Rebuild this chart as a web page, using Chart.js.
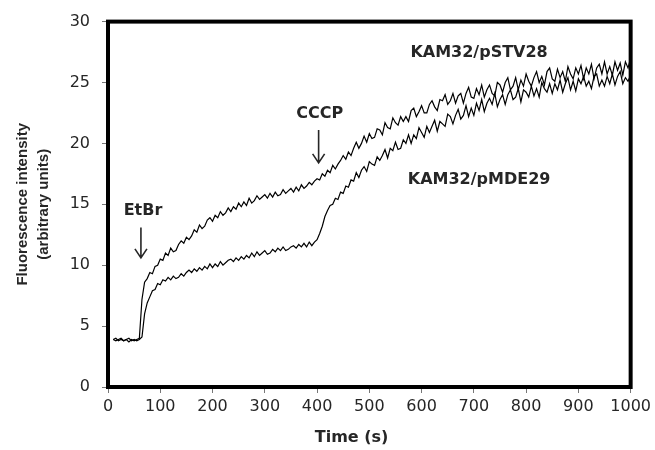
<!DOCTYPE html>
<html>
<head>
<meta charset="utf-8">
<script src="https://cdn.jsdelivr.net/npm/chart.js@4.4.0/dist/chart.umd.min.js"></script>
<style>
    html, body { margin: 0; padding: 0; background: #fff; }
</style>
</head>
<body>
<canvas id="chart" width="655" height="450"></canvas>
<script>
// Sampling times (s), one row per 50 s
const times = [
    10, 15, 20, 25, 30, 35, 40, 45, 50, 55,
    60, 65, 70, 75, 80, 85, 90, 95, 100, 105,
    110, 115, 120, 125, 130, 135, 140, 145, 150, 155,
    160, 165, 170, 175, 180, 185, 190, 195, 200, 205,
    210, 215, 220, 225, 230, 235, 240, 245, 250, 255,
    260, 265, 270, 275, 280, 285, 290, 295, 300, 305,
    310, 315, 320, 325, 330, 335, 340, 345, 350, 355,
    360, 365, 370, 375, 380, 385, 390, 395, 400, 405,
    410, 415, 420, 425, 430, 435, 440, 445, 450, 455,
    460, 465, 470, 475, 480, 485, 490, 495, 500, 505,
    510, 515, 520, 525, 530, 535, 540, 545, 550, 555,
    560, 565, 570, 575, 580, 585, 590, 595, 600, 605,
    610, 615, 620, 625, 630, 635, 640, 645, 650, 655,
    660, 665, 670, 675, 680, 685, 690, 695, 700, 705,
    710, 715, 720, 725, 730, 735, 740, 745, 750, 755,
    760, 765, 770, 775, 780, 785, 790, 795, 800, 805,
    810, 815, 820, 825, 830, 835, 840, 845, 850, 855,
    860, 865, 870, 875, 880, 885, 890, 895, 900, 905,
    910, 915, 920, 925, 930, 935, 940, 945, 950, 955,
    960, 965, 970, 975, 980, 985, 990, 995, 1000
];

// KAM32/pSTV28 (upper trace)
const pSTV28 = [
    3.9, 3.8, 3.9, 4.0, 3.8, 3.9, 3.7, 3.9, 3.8, 3.9,
    4.0, 7.2, 8.6, 8.9, 9.4, 9.3, 9.9, 10.0, 10.5, 10.4,
    11.0, 10.8, 11.4, 11.1, 11.2, 11.7, 12.0, 11.8, 12.3, 12.1,
    12.4, 12.9, 12.7, 13.3, 13.0, 13.2, 13.7, 13.9, 13.6, 14.1,
    13.9, 14.4, 14.1, 14.3, 14.7, 14.4, 14.8, 14.6, 15.1, 14.8,
    15.2, 14.9, 15.5, 15.1, 15.3, 15.7, 15.4, 15.6, 15.8, 15.5,
    15.9, 15.6, 16.0, 15.7, 15.8, 16.2, 15.9, 16.1, 16.3, 16.0,
    16.4, 16.1, 16.6, 16.3, 16.5, 16.8, 16.6, 16.9, 17.1, 17.0,
    17.5, 17.3, 17.8, 17.6, 18.2, 17.9, 18.3, 18.6, 19.0, 18.7,
    19.3, 19.0, 19.6, 20.1, 19.6, 20.0, 20.6, 20.1, 20.8, 20.4,
    20.5, 21.2, 21.1, 20.7, 21.7, 21.3, 21.2, 22.1, 21.7, 21.5,
    22.2, 21.8, 22.2, 21.8, 22.7, 22.9, 22.2, 22.6, 23.1, 22.5,
    22.5, 23.2, 23.5, 23.0, 22.7, 23.6, 23.5, 24.0, 23.2, 23.5,
    24.1, 23.3, 23.9, 24.1, 23.3, 24.1, 24.6, 23.8, 23.7, 24.5,
    24.0, 24.8, 23.8, 24.4, 24.8, 24.1, 23.9, 25.0, 24.8, 24.2,
    25.0, 25.4, 24.4, 24.7, 25.4, 24.4, 25.2, 24.7, 25.7, 25.1,
    24.7, 25.4, 25.9, 25.0, 25.5, 24.8, 25.9, 26.2, 25.3, 25.1,
    26.1, 25.4, 25.9, 25.1, 26.3, 25.7, 25.3, 26.2, 25.7, 26.4,
    25.3, 26.2, 25.7, 26.5, 25.3, 26.2, 26.5, 25.7, 26.7, 25.7,
    26.3, 25.6, 26.7, 26.0, 26.6, 25.6, 26.7, 26.2, 27.0
];

// KAM32/pMDE29 (lower trace)
const pMDE29 = [
    3.9, 4.0, 3.8, 3.9, 3.8, 3.9, 4.0, 3.8, 3.9, 3.8,
    3.9, 4.1, 6.0, 6.9, 7.4, 7.9, 8.0, 8.5, 8.4, 8.8,
    8.7, 9.0, 8.8, 9.1, 8.9, 9.0, 9.3, 9.1, 9.4, 9.6,
    9.4, 9.7, 9.5, 9.8, 9.6, 9.9, 9.7, 10.1, 9.8, 10.1,
    9.9, 10.3, 10.0, 10.2, 10.4, 10.5, 10.3, 10.6, 10.4, 10.7,
    10.5, 10.8, 10.6, 11.0, 10.7, 11.1, 10.8, 11.0, 11.2, 10.9,
    11.0, 11.3, 11.1, 11.4, 11.2, 11.5, 11.2, 11.3, 11.5, 11.6,
    11.4, 11.7, 11.5, 11.8, 11.5, 11.9, 11.6, 11.9, 12.1, 12.6,
    13.2, 14.0, 14.5, 14.9, 15.0, 15.5, 15.4, 16.0, 15.9, 16.5,
    16.4, 17.0, 16.9, 17.6, 17.2, 17.8, 18.1, 17.7, 18.5, 18.3,
    18.2, 18.9, 18.6, 19.0, 19.5, 18.8, 19.6, 19.4, 20.1, 19.5,
    19.6, 20.3, 20.0, 20.7, 20.0, 20.7, 20.4, 21.3, 20.9, 20.5,
    21.4, 20.9, 21.4, 21.9, 21.0, 21.8, 21.6, 21.4, 22.4, 22.2,
    21.6, 22.3, 22.8, 22.0, 22.3, 23.1, 22.2, 22.9, 22.3, 23.3,
    22.7, 23.6, 22.6, 23.3, 23.7, 23.2, 24.1, 23.0, 23.6, 24.0,
    23.2, 24.0, 24.4, 23.6, 23.8, 24.5, 23.4, 24.4, 24.2, 23.8,
    24.7, 23.9, 24.5, 23.8, 25.0, 24.5, 24.2, 24.9, 24.1, 24.9,
    24.4, 25.2, 24.2, 24.9, 25.4, 24.4, 25.1, 24.3, 25.3, 24.9,
    25.5, 24.7, 25.1, 24.5, 25.5, 25.7, 24.7, 25.2, 24.7, 25.5,
    24.9, 25.7, 24.8, 25.5, 25.9, 24.9, 25.4, 25.1, 25.6
];

const xTicks = [0, 100, 200, 300, 400, 500, 600, 700, 800, 900, 1000];
const yTicks = [0, 5, 10, 15, 20, 25, 30];

// Text labels and arrows, in data coordinates
const notes = [
    { text: 'EtBr', x: 67, y: 14.5 },
    { text: 'CCCP', x: 405, y: 22.4 },
    { text: 'KAM32/pSTV28', x: 710, y: 27.4 },
    { text: 'KAM32/pMDE29', x: 710, y: 17.0 }
];
const arrows = [
    { x: 63, from: 13.1, to: 10.6 },
    { x: 403, from: 21.1, to: 18.4 }
];

const textColor = '#262626';
const tickFont = { family: 'DejaVu Sans', size: 16 };
const boldFont = 'bold 16px "DejaVu Sans"';

// Draws the heavy box round the plot, the labels, arrows and the x title
const framePlugin = {
    id: 'framePlugin',
    afterDatasetsDraw(chart) {
        const { ctx, chartArea, scales } = chart;
        const x = scales.x, y = scales.y;
        ctx.save();
        ctx.strokeStyle = '#000';
        ctx.lineWidth = 4;
        ctx.strokeRect(chartArea.left, chartArea.top,
            chartArea.right - chartArea.left, chartArea.bottom - chartArea.top);

        ctx.fillStyle = textColor;
        ctx.font = boldFont;
        ctx.textAlign = 'center';
        ctx.textBaseline = 'middle';
        notes.forEach(n => {
            ctx.fillText(n.text, x.getPixelForValue(n.x), y.getPixelForValue(n.y));
        });

        ctx.strokeStyle = textColor;
        ctx.lineWidth = 1.6;
        arrows.forEach(a => {
            const px = x.getPixelForValue(a.x);
            const y0 = y.getPixelForValue(a.from);
            const y1 = y.getPixelForValue(a.to);
            ctx.beginPath();
            ctx.moveTo(px, y0);
            ctx.lineTo(px, y1);
            ctx.moveTo(px - 6, y1 - 9);
            ctx.lineTo(px, y1);
            ctx.lineTo(px + 6, y1 - 9);
            ctx.stroke();
        });

        // x axis title
        ctx.fillText('Time (s)', x.getPixelForValue(466), chartArea.bottom + 51);
        ctx.restore();
    }
};

const ctx = document.getElementById('chart').getContext('2d');

new Chart(ctx, {
    type: 'line',
    data: {
        datasets: [
            {
                label: 'KAM32/pSTV28',
                data: times.map((t, i) => ({ x: t, y: pSTV28[i] })),
                borderColor: '#000',
                borderWidth: 1.2,
                pointRadius: 0,
                tension: 0,
                fill: false
            },
            {
                label: 'KAM32/pMDE29',
                data: times.map((t, i) => ({ x: t, y: pMDE29[i] })),
                borderColor: '#000',
                borderWidth: 1.2,
                pointRadius: 0,
                tension: 0,
                fill: false
            }
        ]
    },
    options: {
        responsive: false,
        animation: false,
        layout: {
            padding: { left: 0, top: 21, right: 23, bottom: 0 }
        },
        plugins: {
            legend: { display: false },
            tooltip: { enabled: false }
        },
        scales: {
            x: {
                type: 'linear',
                min: 0,
                max: 1000,
                afterBuildTicks: s => { s.ticks = xTicks.map(v => ({ value: v })); },
                afterFit: s => { s.height = 63; },
                border: { display: false },
                grid: { drawOnChartArea: false, tickLength: 6, color: '#777' },
                ticks: {
                    font: tickFont, color: textColor, padding: 4,
                    maxRotation: 0, autoSkip: false,
                    callback: v => String(v)
                }
            },
            y: {
                min: 0,
                max: 30,
                afterBuildTicks: s => { s.ticks = yTicks.map(v => ({ value: v })); },
                afterFit: s => { s.width = 108; },
                border: { display: false },
                grid: { drawOnChartArea: false, tickLength: 6, color: '#777' },
                ticks: { font: tickFont, color: textColor, padding: 12, callback: v => String(v) },
                title: {
                    display: true,
                    text: ['Fluorescence intensity', '(arbitrary units)'],
                    font: { family: 'Liberation Sans', size: 15, weight: 'bold', lineHeight: 1.4 },
                    color: textColor,
                    padding: { top: 12.5, bottom: 0 }
                }
            }
        }
    },
    plugins: [framePlugin]
});
</script>
</body>
</html>
